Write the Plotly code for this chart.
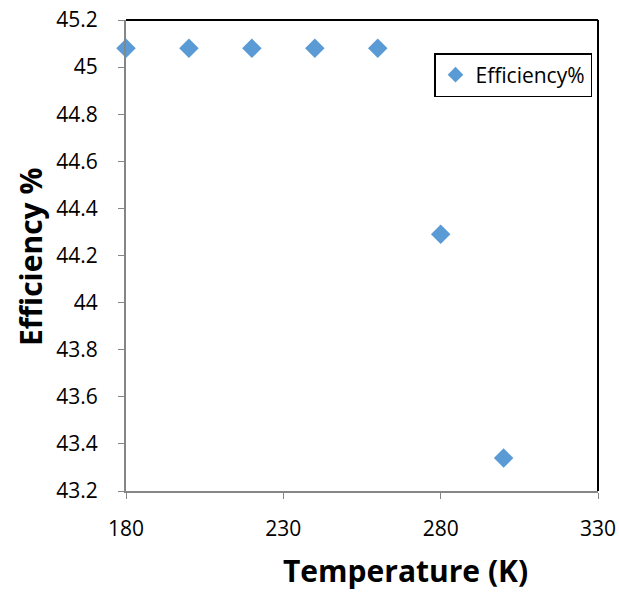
import plotly.graph_objects as go

temps = [180, 200, 220, 240, 260, 280, 300]
efficiency = [45.08, 45.08, 45.08, 45.08, 45.08, 44.29, 43.34]
x_ticks = [180, 230, 280, 330]
y_ticks = [43.2, 43.4, 43.6, 43.8, 44.0, 44.2, 44.4, 44.6, 44.8, 45.0, 45.2]
y_labels = ["43.2", "43.4", "43.6", "43.8", "44", "44.2", "44.4", "44.6", "44.8", "45", "45.2"]

fig = go.Figure()
fig.add_trace(go.Scatter(
    x=temps, y=efficiency, mode="markers", name="Efficiency%",
    marker=dict(symbol="diamond", size=15, color="#5B9BD5"),
    cliponaxis=False,
))

L, R, T, B = 126, 21, 20, 101
W, H = 619, 592

fig.update_layout(
    width=W, height=H,
    margin=dict(l=L, r=R, t=T, b=B, autoexpand=False),
    paper_bgcolor="white", plot_bgcolor="white",
    font=dict(family="Open Sans, Liberation Sans, sans-serif", color="black", size=21),
    showlegend=True,
    legend=dict(
        x=(434 - L) / (W - L - R), y=(H - B - 53) / (H - T - B),
        xanchor="left", yanchor="top",
        bordercolor="black", borderwidth=1.5, bgcolor="white",
        font=dict(size=21), itemsizing="constant",
        tracegroupgap=0,
    ),
    xaxis=dict(
        range=[180, 330], tickvals=x_ticks, ticktext=[str(v) for v in x_ticks],
        showgrid=False, zeroline=False, automargin=False,
        showline=True, linecolor="#868686", linewidth=2,
        ticks="outside", ticklen=6, tickcolor="#868686", tickwidth=1,
        tickfont=dict(size=21), ticklabelstandoff=12, mirror=False,
    ),
    yaxis=dict(
        range=[43.2, 45.2], tickvals=y_ticks, ticktext=y_labels,
        showgrid=False, zeroline=False, automargin=False,
        showline=True, linecolor="#868686", linewidth=2,
        ticks="outside", ticklen=6, tickcolor="#868686", tickwidth=1,
        tickfont=dict(size=21), ticklabelstandoff=16, mirror=False,
    ),
    shapes=[
        dict(type="line", xref="paper", yref="paper", x0=0, x1=1, y0=1, y1=1,
             line=dict(color="black", width=2)),
        dict(type="line", xref="paper", yref="paper", x0=1, x1=1, y0=0, y1=1,
             line=dict(color="black", width=2)),
    ],
    annotations=[
        dict(text="<b>Temperature (K)</b>", xref="paper", yref="paper",
             x=(405 - L) / (W - L - R), y=-(570 - (H - B)) / (H - T - B),
             xanchor="center", yanchor="middle", showarrow=False,
             font=dict(size=30)),
        dict(text="<b>Efficiency %</b>", xref="paper", yref="paper",
             x=-(L - 30) / (W - L - R), y=(H - B - 257) / (H - T - B), textangle=-90,
             xanchor="center", yanchor="middle", showarrow=False,
             font=dict(size=30)),
    ],
)

fig.write_html("out.html")
